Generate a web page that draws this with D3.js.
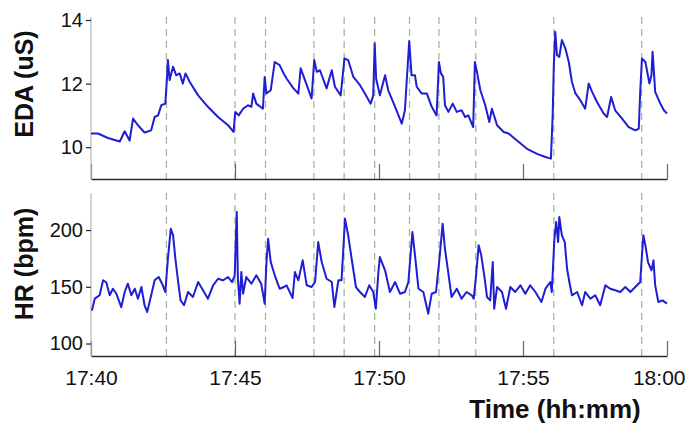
<!DOCTYPE html>
<html>
<head>
<meta charset="utf-8">
<script src="https://cdn.jsdelivr.net/npm/d3@7"></script>
<style>
  body { margin: 0; background: #fff; }
  svg { display: block; font-family: Arial, "Liberation Sans", sans-serif; }
</style>
</head>
<body>
<svg id="chart" width="688" height="432"></svg>
<script>
// minutes after 17:40
var edaTime = [0, 0.24, 0.59, 1.0, 1.17, 1.34, 1.46, 1.63, 1.86, 2.09, 2.21, 2.33, 2.44, 2.58, 2.63, 2.67, 2.73, 2.85, 2.96, 3.08,
  3.19, 3.28, 3.43, 3.72, 4.06, 4.41, 4.76, 4.95, 5.01, 5.13, 5.28, 5.45, 5.57, 5.63, 5.74, 5.97, 6.03, 6.09, 6.24, 6.38,
  6.55, 6.70, 6.79, 7.03, 7.20, 7.28, 7.43, 7.66, 7.75, 7.84, 7.95, 8.18, 8.36, 8.47, 8.67, 8.80, 8.93, 9.11, 9.34, 9.51,
  9.71, 9.80, 9.85, 9.90, 10.03, 10.21, 10.32, 10.56, 10.79, 10.90, 10.96, 11.05, 11.13, 11.25, 11.31, 11.48, 11.66, 11.83, 12.0, 12.08,
  12.15, 12.23, 12.29, 12.41, 12.56, 12.70, 12.87, 12.99, 13.10, 13.27, 13.33, 13.40, 13.52, 13.69, 13.83, 13.92, 14.10, 14.33, 14.50, 14.79,
  15.14, 15.49, 15.78, 15.97, 16.03, 16.07, 16.12, 16.18, 16.26, 16.35, 16.47, 16.59, 16.70, 16.82, 16.99, 17.16, 17.28, 17.40, 17.57, 17.80,
  17.92, 18.06, 18.20, 18.44, 18.67, 18.90, 19.02, 19.07, 19.13, 19.25, 19.39, 19.46, 19.50, 19.59, 19.77, 19.89, 20.0];
var edaValue = [10.43, 10.43, 10.29, 10.18, 10.5, 10.21, 10.9, 10.69, 10.46, 10.53, 10.95, 11.0, 11.32, 11.37, 12.05, 12.74, 12.11, 12.53, 12.26, 12.32,
  12.0, 12.32, 12.05, 11.63, 11.27, 10.95, 10.69, 10.48, 11.11, 11.0, 11.21, 11.32, 11.27, 11.69, 11.37, 11.21, 12.21, 11.69, 11.79, 12.68,
  12.58, 12.3, 12.16, 11.85, 11.69, 12.48, 12.11, 11.53, 12.74, 12.37, 12.42, 11.85, 12.42, 11.90, 11.63, 12.79, 12.74, 12.21, 11.95, 11.69,
  11.37, 11.63, 13.27, 12.16, 11.63, 12.26, 11.79, 11.27, 10.74, 11.16, 12.05, 13.34, 12.26, 12.26, 11.90, 11.69, 11.69, 11.27, 11.0, 12.68,
  12.32, 12.21, 11.32, 11.11, 11.37, 11.11, 11.16, 10.95, 11.0, 10.63, 12.68, 12.37, 11.79, 11.32, 10.79, 11.21, 10.69, 10.48, 10.43, 10.21,
  9.95, 9.79, 9.69, 9.64, 11.0, 12.58, 13.63, 12.90, 12.84, 13.37, 13.11, 12.68, 12.05, 11.69, 11.48, 11.21, 12.0, 11.74, 11.42, 11.06,
  10.95, 11.58, 11.16, 10.90, 10.63, 10.53, 10.58, 11.74, 12.79, 12.68, 12.0, 12.26, 13.0, 11.74, 11.37, 11.16, 11.06];

var hrTime = [0.03, 0.13, 0.3, 0.42, 0.53, 0.65, 0.76, 0.88, 1.05, 1.17, 1.28, 1.40, 1.52, 1.63, 1.75, 1.86, 1.95, 2.09, 2.21, 2.35,
  2.47, 2.58, 2.67, 2.77, 2.85, 2.93, 3.02, 3.11, 3.23, 3.37, 3.54, 3.72, 3.89, 4.06, 4.24, 4.41, 4.58, 4.76, 4.90, 4.99,
  5.06, 5.10, 5.16, 5.22, 5.28, 5.39, 5.57, 5.74, 5.91, 6.03, 6.09, 6.15, 6.24, 6.38, 6.55, 6.70, 6.79, 7.0, 7.08, 7.20,
  7.35, 7.49, 7.66, 7.78, 7.89, 8.01, 8.18, 8.36, 8.45, 8.59, 8.70, 8.82, 8.93, 9.05, 9.20, 9.34, 9.51, 9.66, 9.80, 9.89,
  9.98, 10.03, 10.21, 10.38, 10.56, 10.73, 10.90, 11.02, 11.16, 11.25, 11.37, 11.54, 11.71, 11.83, 11.98, 12.10, 12.21, 12.29, 12.41, 12.52,
  12.70, 12.87, 13.04, 13.22, 13.29, 13.37, 13.46, 13.55, 13.67, 13.75, 13.86, 13.95, 14.0, 14.10, 14.27, 14.41, 14.56, 14.73, 14.91, 15.08,
  15.25, 15.43, 15.64, 15.78, 15.95, 16.0, 16.09, 16.15, 16.22, 16.26, 16.35, 16.45, 16.53, 16.61, 16.70, 16.88, 17.05, 17.16, 17.34, 17.51,
  17.68, 17.86, 18.03, 18.20, 18.38, 18.55, 18.73, 18.90, 19.07, 19.13, 19.18, 19.25, 19.34, 19.46, 19.53, 19.59, 19.70, 19.84, 20.0];
var hrValue = [129, 139.5, 142.5, 155.7, 154, 142.5, 148.3, 143.9, 132, 145.4, 152.7, 142.5, 148.3, 139.5, 149.8, 133.7, 127.8, 142.5, 155.7, 158.6,
  152.7, 145.4, 174.7, 201.1, 195.3, 174.7, 155.7, 138, 133.7, 145.4, 141, 154.2, 146.9, 139.5, 151.3, 157.1, 155.7, 158.6, 154.2, 160.1,
  215.9, 157.1, 135.1, 163, 143.9, 158.6, 152.7, 160.1, 152.7, 135.1, 170.3, 192.3, 171.8, 160.1, 148.3, 149.8, 151.3, 140.1, 163, 155.7,
  173.3, 151.3, 149.8, 154.2, 189.4, 171.8, 157.1, 154.2, 132.2, 155.7, 155.7, 210, 195.3, 174.7, 149.8, 145.4, 141, 151.3, 145.4, 130.7,
  163, 176.2, 164.5, 145.4, 154.2, 143.9, 145.4, 154.2, 198.2, 177.7, 148.3, 145.4, 126.3, 143.9, 145.4, 174.7, 205.5, 183.5, 161.5, 141,
  148.3, 139.5, 145.4, 142.5, 139.5, 160.1, 186.5, 177.7, 157.1, 141, 138, 171.8, 130.7, 149.8, 145.4, 130.7, 149.8, 145.4, 151.3, 143.9,
  151.3, 145.4, 136.6, 148.3, 154.2, 145.4, 192.3, 207, 189.4, 211.5, 195.3, 189.4, 165.9, 154.2, 142.5, 145.4, 133.7, 145.4, 139.5, 142.5,
  133.7, 151.3, 148.3, 146.9, 145.4, 149.8, 145.4, 149.8, 154.2, 177.7, 195.3, 186.5, 171.8, 164.5, 173.3, 151.3, 136.6, 138, 135.1];

var eventTime = [2.62, 5.0, 6.06, 7.74, 8.79, 9.85, 11.06, 12.08, 13.36, 16.07, 19.12];
var timeTicks = [0, 5, 10, 15, 20];
var timeTickLabels = ["17:40", "17:45", "17:50", "17:55", "18:00"];
var edaTicks = [10, 12, 14];
var hrTicks = [100, 150, 200];

var svg = d3.select("#chart");
var lineColor = "#1e1ed2";
var eventColor = "#9fb89f";

var x = d3.scaleLinear().domain([0, 20]).range([91, 667]);

function panel(cfg) {
  var y = d3.scaleLinear().domain(cfg.domain).range([cfg.bottom, cfg.top]);
  var g = svg.append("g");

  // event markers
  g.selectAll("line.event").data(eventTime).enter().append("line")
    .attr("class", "event")
    .attr("x1", function (d) { return x(d); })
    .attr("x2", function (d) { return x(d); })
    .attr("y1", cfg.top - 3)
    .attr("y2", cfg.bottom)
    .attr("stroke", eventColor)
    .attr("stroke-width", 1.3)
    .attr("stroke-dasharray", "7,5");

  // x axis with inward ticks
  var xAxis = d3.axisBottom(x)
    .tickValues(timeTicks)
    .tickSize(-15)
    .tickSizeOuter(0)
    .tickPadding(14)
    .tickFormat(function (d, i) { return cfg.labels ? timeTickLabels[i] : ""; });
  var gx = g.append("g").attr("transform", "translate(0," + cfg.bottom + ")").call(xAxis);
  gx.select(".domain").attr("stroke", "#2a2a2a").attr("stroke-width", 1.5);
  gx.selectAll(".tick line").attr("stroke", "#666").attr("stroke-width", 1.2);
  gx.selectAll(".tick text").attr("fill", "#111").style("font-size", "21px");
  // last label sits inside the frame, as in the original
  gx.selectAll(".tick text").filter(function (d) { return d === 20; })
    .attr("text-anchor", "end").attr("x", 18);

  // y axis
  var yAxis = d3.axisLeft(y).tickValues(cfg.ticks).tickSize(5).tickSizeOuter(0).tickPadding(3)
    .tickFormat(d3.format("d"));
  var gy = g.append("g").attr("transform", "translate(91,0)").call(yAxis);
  gy.select(".domain").attr("stroke", "#b8b8b8").attr("stroke-width", 1.2)
    .attr("d", "M0," + (cfg.top - 3) + "V" + cfg.bottom);
  gy.selectAll(".tick line").attr("stroke", "#222").attr("stroke-width", 1.2);
  gy.selectAll(".tick text").attr("fill", "#111").style("font-size", "20px");

  // signal
  var line = d3.line()
    .x(function (d) { return x(d[0]); })
    .y(function (d) { return y(d[1]); });
  g.append("path")
    .datum(d3.zip(cfg.t, cfg.v))
    .attr("d", line)
    .attr("fill", "none")
    .attr("stroke", lineColor)
    .attr("stroke-width", 2)
    .attr("stroke-linejoin", "round");

  // axis title
  g.append("text")
    .attr("transform", "translate(" + cfg.titleX + "," + cfg.titleY + ") rotate(-90)")
    .attr("text-anchor", "middle")
    .attr("dy", "0.35em")
    .style("font-size", "25px")
    .style("font-weight", "bold")
    .attr("fill", "#111")
    .text(cfg.title);
}

panel({ domain: [9, 14], top: 20, bottom: 179, ticks: edaTicks, t: edaTime, v: edaValue,
  labels: false, title: "EDA (uS)", titleX: 24, titleY: 84 });
panel({ domain: [89, 230], top: 196, bottom: 356, ticks: hrTicks, t: hrTime, v: hrValue,
  labels: true, title: "HR (bpm)", titleX: 24, titleY: 264 });

svg.append("text")
  .attr("x", 555)
  .attr("y", 418)
  .attr("text-anchor", "middle")
  .style("font-size", "26px")
  .style("font-weight", "bold")
  .attr("fill", "#111")
  .text("Time (hh:mm)");
</script>
</body>
</html>
